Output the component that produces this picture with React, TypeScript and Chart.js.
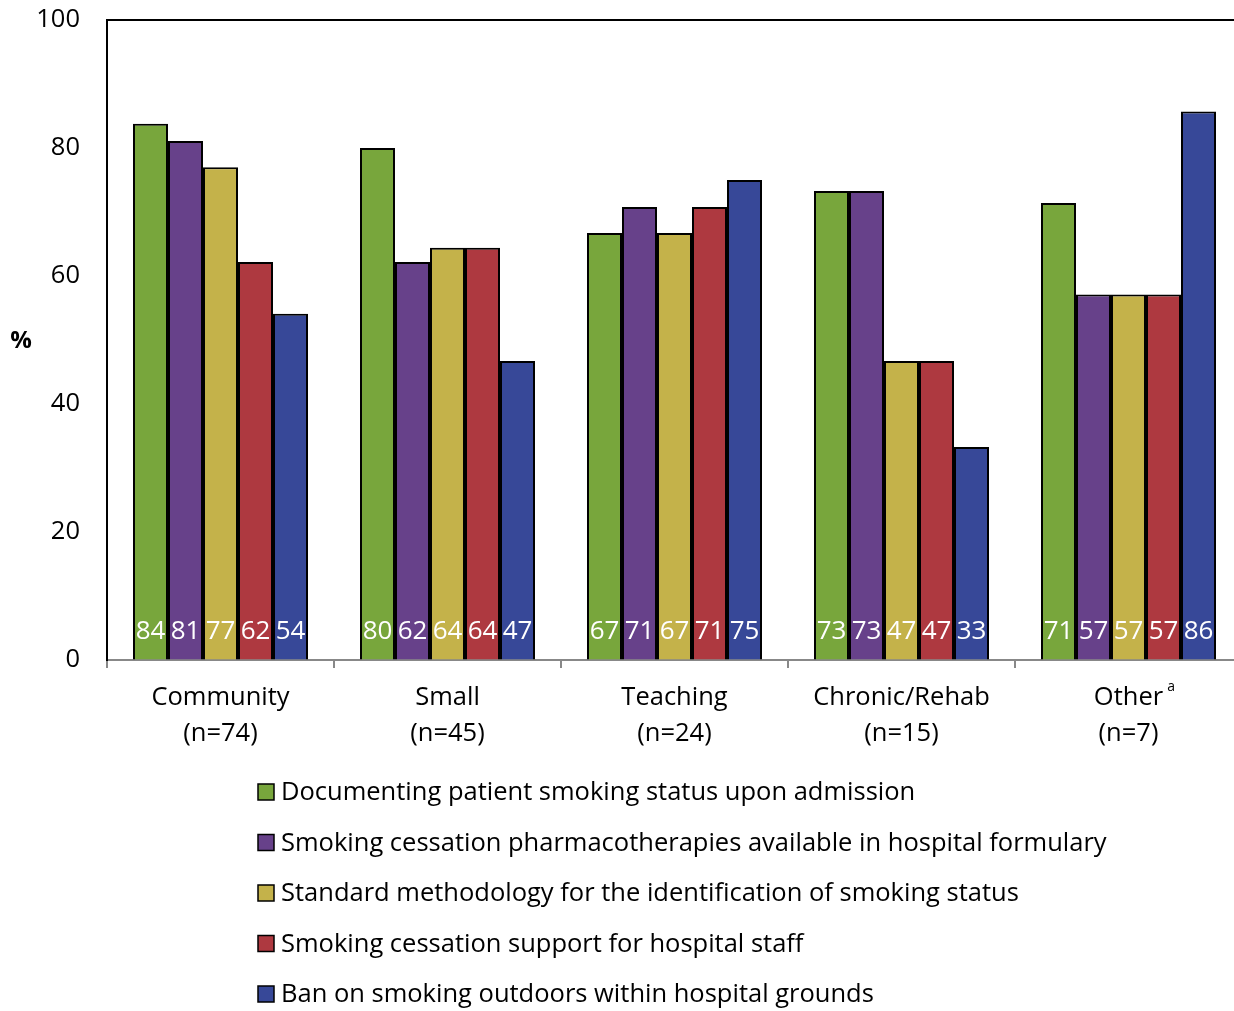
import React, { useEffect, useRef } from "react";
import { Chart, registerables } from "chart.js";

Chart.register(...registerables);

const categories: string[][] = [
  ["Community", "(n=74)"],
  ["Small", "(n=45)"],
  ["Teaching", "(n=24)"],
  ["Chronic/Rehab", "(n=15)"],
  ["Other", "(n=7)"],
];
const superscriptIndex = 4;
const superscriptText = "a";

const seriesNames = [
  "Documenting patient smoking status upon admission",
  "Smoking cessation pharmacotherapies available in hospital formulary",
  "Standard methodology for the identification of smoking status",
  "Smoking cessation support for hospital staff",
  "Ban on smoking outdoors within hospital grounds",
];
const seriesColors = ["#78A63C", "#67418A", "#C4B24A", "#AE3940", "#374898"];

const documenting = [83.8, 80.0, 66.7, 73.3, 71.4];
const pharmacotherapies = [81.1, 62.2, 70.8, 73.3, 57.1];
const standardMethod = [77.0, 64.4, 66.7, 46.7, 57.1];
const staffSupport = [62.2, 64.4, 70.8, 46.7, 57.1];
const outdoorBan = [54.1, 46.7, 75.0, 33.3, 85.7];
const seriesValues = [documenting, pharmacotherapies, standardMethod, staffSupport, outdoorBan];

const yMin = 0;
const yMax = 100;
const yStep = 20;
const yTitle = "%";

const FONT = "'Open Sans', Lato, sans-serif";
const TEXT_SIZE = 25.5;

const extrasPlugin = {
  id: "extras",
  afterDatasetsDraw(chart: any) {
    const ctx = chart.ctx;
    const yScale = chart.scales.y;
    const base = yScale.getPixelForValue(0);
    ctx.save();
    ctx.fillStyle = "#ffffff";
    ctx.font = `26px ${FONT}`;
    ctx.textAlign = "center";
    ctx.textBaseline = "middle";
    chart.data.datasets.forEach((ds: any, di: number) => {
      const meta = chart.getDatasetMeta(di);
      meta.data.forEach((el: any, i: number) => {
        ctx.fillText(String(Math.round(ds.data[i])), el.x, base - 28);
      });
    });
    ctx.restore();
  },
  afterDraw(chart: any) {
    const ctx = chart.ctx;
    const area = chart.chartArea;
    const xScale = chart.scales.x;
    ctx.save();
    // top border
    ctx.strokeStyle = "#000";
    ctx.lineWidth = 2;
    ctx.beginPath();
    ctx.moveTo(area.left - 1, area.top);
    ctx.lineTo(area.right + 10, area.top);
    ctx.stroke();

    // y title
    ctx.fillStyle = "#000";
    ctx.font = `bold 24px ${FONT}`;
    ctx.textAlign = "center";
    ctx.textBaseline = "middle";
    ctx.fillText(yTitle, 21, (area.top + area.bottom) / 2 + 1);

    // superscript
    ctx.font = `${TEXT_SIZE}px ${FONT}`;
    const w = ctx.measureText(categories[superscriptIndex][0]).width;
    const sx = xScale.getPixelForValue(superscriptIndex) + w / 2 + 4;
    ctx.font = `14px ${FONT}`;
    ctx.textAlign = "left";
    ctx.fillText(superscriptText, sx, area.bottom + 27);

    // legend
    const lx = 258;
    const ly0 = area.bottom + 132;
    const step = 50.5;
    chart.data.datasets.forEach((ds: any, i: number) => {
      const cy = ly0 + i * step;
      ctx.fillStyle = ds.backgroundColor;
      ctx.fillRect(lx, cy - 8, 16, 16);
      ctx.strokeStyle = "#000";
      ctx.lineWidth = 1.5;
      ctx.strokeRect(lx, cy - 8, 16, 16);
      ctx.fillStyle = "#000";
      ctx.font = `${TEXT_SIZE}px ${FONT}`;
      ctx.textAlign = "left";
      ctx.textBaseline = "middle";
      ctx.fillText(ds.label, lx + 23, cy + 1);
    });
    ctx.restore();
  },
};

export default function App() {
  const ref = useRef<HTMLCanvasElement | null>(null);
  useEffect(() => {
    if (!ref.current) return;
    const chart = new Chart(ref.current, {
      type: "bar",
      data: {
        labels: categories,
        datasets: seriesNames.map((name, i) => ({
          label: name,
          data: seriesValues[i],
          backgroundColor: seriesColors[i],
          borderColor: "#000000",
          borderWidth: 2,
          borderSkipped: "bottom",
          categoryPercentage: 0.771,
          barPercentage: 1.0,
        })),
      },
      options: {
        responsive: false,
        animation: false,
        devicePixelRatio: 1,
        layout: { padding: { top: 20, right: 8, bottom: 251, left: 0 } },
        plugins: {
          legend: { display: false },
          tooltip: { enabled: false },
        },
        scales: {
          x: {
            grid: {
              offset: true,
              drawOnChartArea: false,
              drawTicks: true,
              tickLength: 8,
              color: "#888888",
              lineWidth: 2,
            },
            border: { display: true, color: "#888888", width: 2 },
            ticks: {
              color: "#000",
              font: { family: FONT, size: TEXT_SIZE, lineHeight: 1.41 },
              padding: 12,
              maxRotation: 0,
              autoSkip: false,
            },
            afterFit: (s: any) => {
              s.height = 100;
            },
          },
          y: {
            min: yMin,
            max: yMax,
            ticks: {
              stepSize: yStep,
              color: "#000",
              font: { family: FONT, size: TEXT_SIZE },
              padding: 0,
            },
            grid: {
              display: true,
              drawOnChartArea: false,
              drawTicks: true,
              tickLength: 27,
              color: "rgba(0,0,0,0)",
            },
            border: { display: true, color: "#000000", width: 2 },
            afterFit: (s: any) => {
              s.width = 107;
            },
          },
        },
      },
      plugins: [extrasPlugin],
    });
    return () => chart.destroy();
  }, []);
  return (
    <div style={{ position: "absolute", left: 0, top: 0, width: 1234, height: 1011, overflow: "hidden", background: "#fff" }}>
      <canvas ref={ref} width={1250} height={1011} style={{ width: 1250, height: 1011, display: "block" }} />
    </div>
  );
}
